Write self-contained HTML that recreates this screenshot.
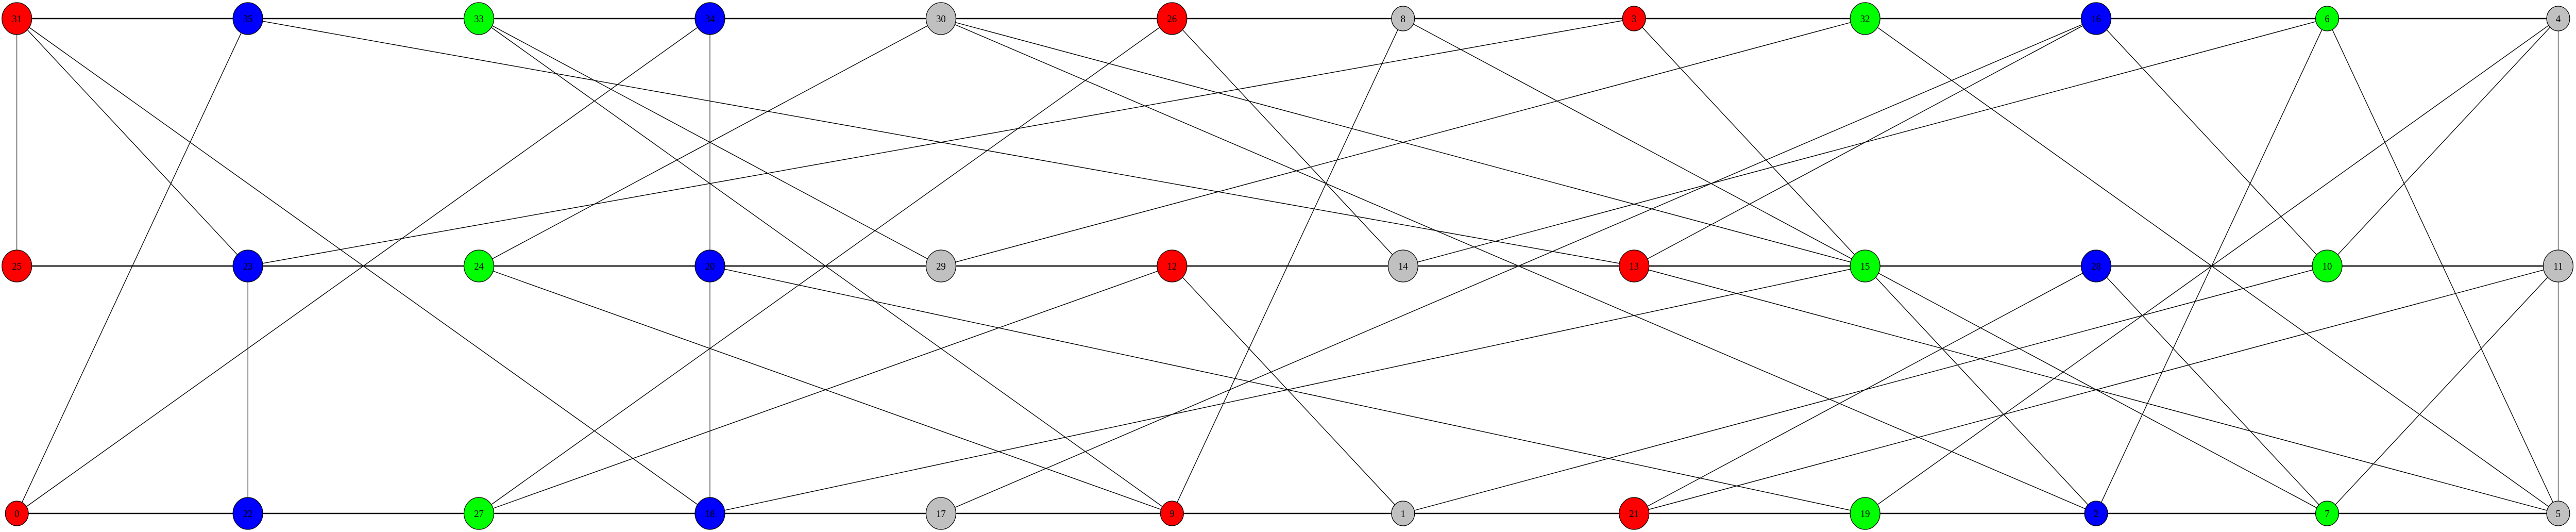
<!DOCTYPE html>
<html><head><meta charset="utf-8"><style>
html,body{margin:0;padding:0;background:#fff;width:100%;height:100%;overflow:hidden;}
svg{display:block;width:100vw;height:100vh;}
</style></head><body>
<svg id="graph" viewBox="0 0 5352 1032" preserveAspectRatio="none" xmlns="http://www.w3.org/2000/svg">
<g id="edges"></g>
<g id="rows"></g>
<g id="nodes"></g>
</svg>
<script>
const colX = [35,515,995,1475,1955,2435,2915,3395,3875,4355,4835,5315];
const rowY = [36,516,996];
const topRow = ["31","35","33","34","30","26","8","3","32","16","6","4"];
const midRow = ["25","23","24","20","29","12","14","13","15","28","10","11"];
const botRow = ["0","22","27","18","17","9","1","21","19","2","7","5"];
const nodeColor = {"31":"r","35":"b","33":"g","34":"b","30":"k","26":"r","8":"k","3":"r","32":"g","16":"b","6":"g","4":"k",
"25":"r","23":"b","24":"g","20":"b","29":"k","12":"r","14":"k","13":"r","15":"g","28":"b","10":"g","11":"k",
"0":"r","22":"b","27":"g","18":"b","17":"k","9":"r","1":"k","21":"r","19":"g","2":"b","7":"g","5":"k"};
const smallNodes = ["0","8","3","6","4","5","9","1","2","7"];
const verticalEdges = [["31","25"],["23","22"],["34","20"],["20","18"],["4","11"],["11","5"]];
const diagEdges = [["31","23"],["31","18"],["35","0"],["35","13"],["33","29"],["33","9"],["34","0"],["24","30"],
["23","3"],["27","26"],["27","12"],["24","9"],["20","19"],["18","15"],["30","15"],["30","2"],["26","14"],["8","9"],
["8","15"],["3","15"],["29","32"],["14","6"],["13","16"],["17","16"],["12","1"],["1","10"],["21","28"],["21","11"],
["13","5"],["32","5"],["16","10"],["6","2"],["6","5"],["4","10"],["4","19"],["15","2"],["15","7"],["28","7"],["11","7"]];
const fills = {r:"#ff0000",b:"#0000ff",g:"#00ff00",k:"#c0c0c0"};
const NS="http://www.w3.org/2000/svg";
const pos={};
[topRow,midRow,botRow].forEach((row,ri)=>row.forEach((id,ci)=>{pos[id]=[colX[ci],rowY[ri]];}));
const eg=document.getElementById('edges');
function line(g,a,b,w,c){const l=document.createElementNS(NS,'line');
l.setAttribute('x1',a[0]);l.setAttribute('y1',a[1]);l.setAttribute('x2',b[0]);l.setAttribute('y2',b[1]);
l.setAttribute('stroke',c);l.setAttribute('stroke-width',w);g.appendChild(l);return l;}
verticalEdges.forEach(e=>{const l=line(eg,pos[e[0]],pos[e[1]],1.3,'#333');

});
diagEdges.forEach(e=>{const l=line(eg,pos[e[0]],pos[e[1]],1.4,'#000');

});
const ng=document.getElementById('nodes');
Object.keys(pos).forEach(id=>{const g=document.createElementNS(NS,'g');


const c=document.createElementNS(NS,'circle');const r=smallNodes.includes(id)?24:31;
c.setAttribute('cx',pos[id][0]);c.setAttribute('cy',pos[id][1]);c.setAttribute('r',r);
c.setAttribute('fill',fills[nodeColor[id]]);c.setAttribute('stroke','#000');c.setAttribute('stroke-width',1.3);
g.appendChild(c);ng.appendChild(g);});
const rg=document.getElementById('rows');
rowY.forEach((y,i)=>{const l=line(rg,[colX[0],y],[colX[colX.length-1],y],2.4,'#000');

});
Object.keys(pos).forEach(id=>{const t=document.createElementNS(NS,'text');
t.setAttribute('x',pos[id][0]);t.setAttribute('y',pos[id][1]+7);t.setAttribute('text-anchor','middle');
t.setAttribute('font-family','"Liberation Serif", serif');t.setAttribute('font-size','20');
t.textContent=id;


ng.appendChild(t);});
</script>
</body></html>
